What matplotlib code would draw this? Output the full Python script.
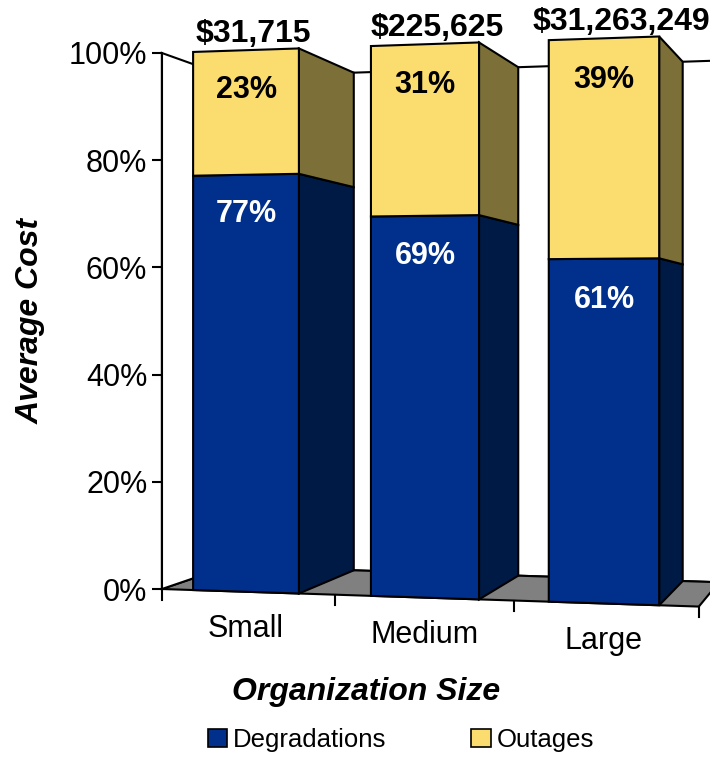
import matplotlib
matplotlib.use('Agg')
import matplotlib.pyplot as plt
from matplotlib.patches import Polygon, Patch

plt.rcParams['font.family'] = ['Liberation Sans', 'DejaVu Sans']

categories   = ['Small', 'Medium', 'Large']
degradations = [77, 69, 61]
outages      = [23, 31, 39]
totals       = ['$31,715', '$225,625', '$31,263,249']
y_ticks      = [0, 20, 40, 60, 80, 100]

COLOR_DEG      = '#00308C'
COLOR_DEG_SIDE = '#001A46'
COLOR_OUT      = '#FBDC6E'
COLOR_OUT_SIDE = '#7C7038'
COLOR_FLOOR    = '#808080'

BAR_W  = 0.585
X_AXIS = -0.47
X_END  = 2.53
VP     = (3.82, 48.9)   # vanishing point for the depth edges (data units)
DEPTH  = 0.087
TAPER  = 0.022
LW     = 1.5


def front(x, y):
    """Front plane with a slight horizontal perspective taper."""
    s = 1 + TAPER * (x - X_AXIS)
    return (x, 49.6 + (y - 49.6) * s)


def back(pt):
    return (pt[0] + DEPTH * (VP[0] - pt[0]), pt[1] + DEPTH * (VP[1] - pt[1]))


def poly(ax, pts, fc, z):
    ax.add_patch(Polygon(pts, closed=True, facecolor=fc, edgecolor='black',
                         linewidth=LW, joinstyle='miter', zorder=z, clip_on=False))


fig = plt.figure(figsize=(7.1, 7.57), dpi=100)
ax = fig.add_axes([0.228, 0.2219, 0.7487, 0.7081])
ax.set_xlim(X_AXIS, 2.5)
ax.set_ylim(0, 100)

# walls and floor
f0, f1 = front(X_AXIS, 0), front(X_AXIS, 100)
e0, e1 = front(X_END, 0), front(X_END, 100)
poly(ax, [back(f0), back(f1), back(e1), back(e0)], 'white', 1)
poly(ax, [f0, e0, back(e0), back(f0)], COLOR_FLOOR, 2)
poly(ax, [f0, f1, back(f1), back(f0)], 'white', 2)

# stacked bars
for i, name in enumerate(categories):
    s = 1 + TAPER * (i - X_AXIS)
    xl, xr = i - BAR_W / 2 * s, i + BAR_W / 2 * s
    segs = [(0, degradations[i], COLOR_DEG, COLOR_DEG_SIDE),
            (degradations[i], degradations[i] + outages[i], COLOR_OUT, COLOR_OUT_SIDE)]
    for y0, y1, fc, sc in segs:
        poly(ax, [front(xr, y0), back(front(xr, y0)), back(front(xr, y1)), front(xr, y1)], sc, 3)
        poly(ax, [front(xl, y0), front(xr, y0), front(xr, y1), front(xl, y1)], fc, 4)

    # segment labels
    ax.text(i, front(i, degradations[i] - 7.3)[1], f'{degradations[i]}%',
            ha='center', va='center', fontsize=22, fontweight='bold', color='white', zorder=6)
    ax.text(i, front(i, 100 - 7.3)[1], f'{outages[i]}%',
            ha='center', va='center', fontsize=22, fontweight='bold', color='black', zorder=6)
    ax.text(i + 0.04 + 0.03 * i, front(i, 102.9)[1], totals[i].replace('$', r'\$'),
            ha='center', va='center', fontsize=23, fontweight='bold', color='black',
            zorder=6, clip_on=False)

    # category label below the floor edge
    ax.text(i, front(i, 0)[1] - 7.0, name, ha='center', va='center', fontsize=22,
            clip_on=False)

# category tick marks hanging from the floor front edge
for b in [X_AXIS, 0.5, 1.5, X_END]:
    yb = front(b, 0)[1]
    ax.plot([b, b], [yb, yb - 2.0], color='black', lw=LW, clip_on=False, zorder=5)

ax.set_yticks(y_ticks, labels=[f'{v}%' for v in y_ticks])
ax.tick_params(axis='y', direction='out', length=7.5, width=LW, labelsize=22, pad=3)
ax.set_xticks([])
for side in ['top', 'right', 'bottom']:
    ax.spines[side].set_visible(False)
ax.spines['left'].set_linewidth(LW)
ax.spines['left'].set_zorder(5)
ax.set_facecolor('none')

ax.set_ylabel('Average Cost', fontsize=23, fontweight='bold', fontstyle='italic', labelpad=17)
ax.set_xlabel('Organization Size', fontsize=23, fontweight='bold', fontstyle='italic')
ax.xaxis.set_label_coords(0.384, -0.165)

handles = [Patch(facecolor=COLOR_DEG, edgecolor='black', linewidth=1.2),
           Patch(facecolor=COLOR_OUT, edgecolor='black', linewidth=1.2)]
fig.legend(handles, ['Degradations', 'Outages'], loc='center', ncol=2,
           bbox_to_anchor=(401 / 710, 17 / 757), frameon=False, fontsize=18.5,
           handlelength=0.75, handleheight=0.75, handletextpad=0.25, columnspacing=3.3)

plt.savefig('out.png', dpi=100)
